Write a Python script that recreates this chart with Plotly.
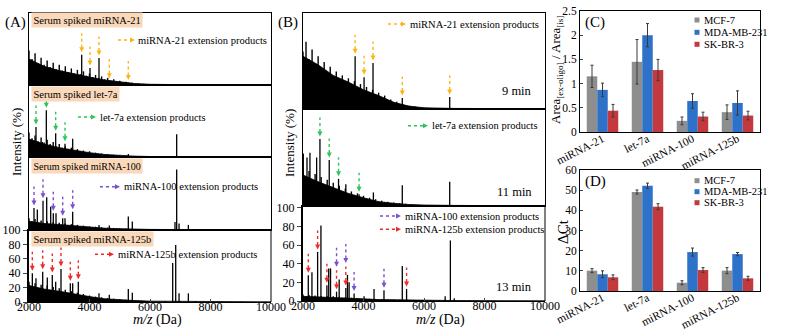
import plotly.graph_objects as go

W, H = 799, 331
SERIF = "Liberation Serif"

# ---------------- spectra data ----------------
# spiky low-mass background: spike tops sampled every 100 Da
NOISE_MZ = [2000, 2100, 2200, 2300, 2400, 2500, 2600, 2700, 2800, 2900,
            3000, 3100, 3200, 3300, 3400, 3500, 3600, 3700, 3800, 3900,
            4000, 4100, 4200, 4300, 4400, 4500, 4600, 4700, 4800, 4900,
            5000, 5100, 5200, 5300, 5400, 5500, 5600, 5700, 5800, 5900,
            6000, 6500, 7000, 7500, 8000, 9000, 10000]

NOISE_A1 = [48, 36, 44, 30, 38, 28, 34, 25, 31, 22, 28, 20, 26, 18, 23, 16, 21, 15, 19, 13,
            16, 11, 14, 10, 12, 8, 10, 6, 8, 5, 6, 3.5, 4.5, 2.5, 3, 2, 2.2, 1.5, 1.6, 1.2,
            1.0, 0.8, 0.6, 0.5, 0.4, 0.3, 0.3]
NOISE_A2 = [34, 26, 30, 22, 27, 20, 24, 18, 21, 15, 18, 13, 15, 11, 13, 9, 11, 8, 9, 6.5,
            8, 5.5, 6, 4.5, 5, 3.5, 4, 3, 3.2, 2.2, 2.5, 1.8, 2, 1.5, 1.5, 1.1, 1.2, 0.9, 1, 0.8,
            0.7, 0.6, 0.5, 0.4, 0.3, 0.3, 0.3]
NOISE_A3 = [16, 12, 15, 10, 13, 9, 12, 8.5, 11, 8, 10, 7, 9, 6.5, 8, 5.5, 7, 5, 6, 4.5,
            5, 4, 4.5, 3.2, 3.8, 2.8, 3.2, 2.4, 2.8, 2, 2.3, 1.7, 2, 1.5, 1.6, 1.2, 1.3, 1, 1.1, 0.9,
            0.9, 0.8, 1.0, 0.8, 0.5, 0.3, 0.3]
NOISE_A4 = [28, 20, 26, 19, 24, 18, 23, 16, 21, 15, 19, 13, 17, 12, 15, 10, 13, 9, 11, 7.5,
            9, 6.5, 7.5, 5.5, 6.5, 4.5, 5.5, 4, 4.5, 3.2, 3.8, 2.8, 3.2, 2.4, 2.8, 2, 2.2, 1.7, 1.8, 1.4,
            1.3, 1.1, 1.4, 1.0, 0.6, 0.4, 0.3]
NOISE_B1 = [60, 70, 52, 62, 47, 55, 42, 49, 38, 44, 34, 39, 30, 35, 27, 32, 25, 29, 22, 26,
            20, 23, 17, 20, 15, 17, 12, 14, 9, 10, 7, 7.5, 5, 5, 3.5, 3.5, 2.5, 2.5, 1.8, 1.8,
            1.4, 1.0, 0.8, 0.6, 0.5, 0.3, 0.3]
NOISE_B2 = [38, 30, 36, 27, 33, 25, 30, 22, 27, 20, 24, 17, 21, 15, 18, 13, 15, 11, 13, 9,
            10.5, 7.5, 8.5, 6, 7, 5, 5.5, 4, 4.5, 3.2, 3.5, 2.5, 2.8, 2, 2.2, 1.6, 1.7, 1.3, 1.4, 1.1,
            1.0, 0.8, 0.7, 0.5, 0.4, 0.3, 0.3]
NOISE_B3 = [7, 5, 6.5, 4.5, 6, 4.5, 5.5, 4, 5, 4, 5, 3.5, 4.5, 3.5, 4, 3, 3.5, 2.5, 3, 2.2,
            2.8, 2, 2.4, 1.8, 2.2, 1.6, 1.9, 1.4, 1.7, 1.3, 1.5, 1.1, 1.3, 1, 1.2, 0.9, 1, 0.8, 0.9, 0.8,
            0.8, 0.7, 1.2, 0.6, 0.4, 0.3, 0.3]

# solid body of the background under the spikes
BODY_MZ = [2000, 2500, 3000, 3500, 4000, 4500, 5000, 5500, 6000, 7000, 10000]
BODY_A1 = [36, 26, 20, 15, 11, 7, 4, 2, 1, 0.5, 0.2]
BODY_A2 = [25, 18, 13, 9, 6, 3.5, 2, 1.2, 0.7, 0.4, 0.2]
BODY_A3 = [12, 9, 7.5, 5.5, 4, 2.5, 1.8, 1.2, 0.8, 0.6, 0.2]
BODY_A4 = [23, 18, 15, 11, 7.5, 4.5, 3, 2, 1.2, 0.9, 0.2]
BODY_B1 = [55, 46, 35, 28, 20, 14, 7, 3, 1.3, 0.6, 0.2]
BODY_B2 = [32, 25, 19, 13, 8.5, 4.5, 2.8, 1.5, 1, 0.6, 0.2]
BODY_B3 = [5, 4.5, 4, 3.2, 2.3, 1.5, 1.2, 0.9, 0.7, 0.5, 0.2]

PEAK_MZ_A1 = [3742, 4017, 4314, 4655, 5283]
PEAK_H_A1 = [42, 23.5, 37.5, 6, 3.5]
PEAK_MZ_A2 = [2231, 2440, 2573, 2882, 3190, 3444, 5283, 6882]
PEAK_H_A2 = [41.5, 21, 65, 33, 18.5, 25.5, 4, 31.5]
PEAK_MZ_A3 = [2165, 2275, 2463, 2585, 2717, 2803, 2893, 3114, 3190, 3444, 4314, 4655,
              5283, 5415, 6826, 6882, 6960, 7268]
PEAK_H_A3 = [30, 28, 40, 45, 32, 23, 23, 16, 16, 25, 7, 6, 18.5, 11.5, 11, 83, 9, 7]
PEAK_MZ_A4 = [2110, 2231, 2453, 2605, 2770, 2882, 3058, 3366, 3444, 3630, 4314, 4655,
              5283, 5415, 6750, 6850, 6960, 7268]
PEAK_H_A4 = [40, 33, 42, 34, 37.5, 28, 46, 26, 26, 28, 12, 10, 18, 13, 54, 79, 12, 12]
PEAK_MZ_B1 = [3723, 4019, 4315, 5282, 6850]
PEAK_H_B1 = [55, 33, 48, 11.5, 12.5]
PEAK_MZ_B2 = [2010, 2132, 2230, 2451, 2560, 2867, 3175, 3416, 3854, 4327, 5282, 6850]
PEAK_H_B2 = [54, 50, 55, 50, 69, 47.5, 28, 22.5, 12, 14, 21.5, 25]
PEAK_MZ_B3 = [2175, 2296, 2483, 2593, 2790, 2850, 2910, 3109, 3196, 3416, 3470, 3524,
              3689, 4019, 4348, 4677, 5282, 5424, 6700, 6872, 7000]
PEAK_H_B3 = [27.6, 31, 52.7, 81, 17, 35, 35, 10, 23, 14, 28, 20,
             8, 5, 13, 11.5, 37.6, 13, 5, 65, 3]

# extension-product masses marked with arrows
EXT_MIR21_A = [3742, 4017, 4314, 4655, 5283]
EXT_LET7A_A = [2231, 2573, 2882, 3190]
EXT_MIR100_A = [2165, 2463, 2803, 3114, 3444]
EXT_MIR125B_A = [2110, 2453, 2770, 3058, 3366, 3630]
EXT_MIR21_B = [3723, 4019, 4315, 5282, 6850]
EXT_LET7A_B = [2560, 2867, 3175, 3854]
EXT_MIR125B_B = [2175, 2483, 2790, 3109, 3416, 5424]
EXT_MIR100_B = [3109, 3416, 3689, 4677]

MZ_TICKS = [2000, 4000, 6000, 8000, 10000]
MZ_TICKTEXT = ["2000", "4000", "6000", "8000", "10000"]
INT_TICKS = [0, 20, 40, 60, 80, 100]

# ---------------- bar chart data ----------------
MIRNAS = ["miRNA-21", "let-7a", "miRNA-100", "miRNA-125b"]
CELL_LINES = ["MCF-7", "MDA-MB-231", "SK-BR-3"]
AREA_MCF7 = [1.15, 1.45, 0.23, 0.41]
AREA_MCF7_ERR = [0.23, 0.46, 0.08, 0.15]
AREA_MDA = [0.87, 2.0, 0.64, 0.60]
AREA_MDA_ERR = [0.14, 0.24, 0.15, 0.25]
AREA_SKBR3 = [0.44, 1.28, 0.32, 0.34]
AREA_SKBR3_ERR = [0.13, 0.22, 0.09, 0.09]
DCT_MCF7 = [10.1, 49.1, 4.1, 10.1]
DCT_MCF7_ERR = [1.0, 1.0, 1.0, 1.5]
DCT_MDA = [8.3, 52.2, 19.3, 18.3]
DCT_MDA_ERR = [1.7, 1.3, 2.0, 0.8]
DCT_SKBR3 = [6.8, 41.8, 10.4, 6.3]
DCT_SKBR3_ERR = [1.2, 1.5, 1.2, 1.0]
AREA_TICKS = [0, 0.5, 1, 1.5, 2, 2.5]
AREA_TICKTEXT = ["0", "0.5", "1", "1.5", "2", "2.5"]
DCT_TICKS = [0, 10, 20, 30, 40, 50, 60]

# ---------------- styling ----------------
ORANGE = "#FDB515"
GREEN = "#2EC45A"
PURPLE = "#7A4FD0"
RED = "#F02A2A"
PEACH = "#FAD8BA"
BAR_COLORS = ["#8E8E8E", "#2D72C8", "#C4393D"]


def fx(px):
    return px / W


def fy(py):
    return 1 - py / H


fig = go.Figure()
shapes, annotations = [], []
layout = {}


def ax_names(i):
    return ("x" if i == 1 else f"x{i}", "y" if i == 1 else f"y{i}",
            "xaxis" if i == 1 else f"xaxis{i}", "yaxis" if i == 1 else f"yaxis{i}")


PANELS = [
    dict(ax=1, xs=(29, 271), ys=(13, 85), yr=[0, 100], noise=NOISE_A1, body=BODY_A1,
         pmz=PEAK_MZ_A1, ph=PEAK_H_A1, arrows=[(EXT_MIR21_A, ORANGE, False)], bottom=False),
    dict(ax=2, xs=(29, 271), ys=(85, 157), yr=[0, 100], noise=NOISE_A2, body=BODY_A2,
         pmz=PEAK_MZ_A2, ph=PEAK_H_A2, arrows=[(EXT_LET7A_A, GREEN, False)], bottom=False),
    dict(ax=3, xs=(29, 271), ys=(157, 230), yr=[0, 100], noise=NOISE_A3, body=BODY_A3,
         pmz=PEAK_MZ_A3, ph=PEAK_H_A3, arrows=[(EXT_MIR100_A, PURPLE, False)], bottom=False),
    dict(ax=4, xs=(29, 271), ys=(230, 302), yr=[0, 100], noise=NOISE_A4, body=BODY_A4,
         pmz=PEAK_MZ_A4, ph=PEAK_H_A4, arrows=[(EXT_MIR125B_A, RED, False)], bottom=True),
    dict(ax=5, xs=(303, 545), ys=(13, 109), yr=[0, 100], noise=NOISE_B1, body=BODY_B1,
         pmz=PEAK_MZ_B1, ph=PEAK_H_B1, arrows=[(EXT_MIR21_B, ORANGE, False)], bottom=False),
    dict(ax=6, xs=(303, 545), ys=(109, 206), yr=[0, 100], noise=NOISE_B2, body=BODY_B2,
         pmz=PEAK_MZ_B2, ph=PEAK_H_B2, arrows=[(EXT_LET7A_B, GREEN, False)], bottom=False),
    dict(ax=7, xs=(303, 545), ys=(206, 301), yr=[0, 102], noise=NOISE_B3, body=BODY_B3,
         pmz=PEAK_MZ_B3, ph=PEAK_H_B3,
         arrows=[(EXT_MIR125B_B, RED, False), (EXT_MIR100_B, PURPLE, True)], bottom=True),
]

ARROW_GAP, ARROW_LEN, HEAD = 2.5, 14, 5


def peak_arrow(xref, yref, mz, base, color, lift):
    g = ARROW_GAP + lift
    shapes.append(dict(type="line", xref=xref, yref=yref, ysizemode="pixel", yanchor=base,
                       x0=mz, x1=mz, y0=g + HEAD - 0.5, y1=g + HEAD + ARROW_LEN,
                       line=dict(color=color, width=1.4, dash="dot")))
    shapes.append(dict(type="path", xref=xref, yref=yref, xsizemode="pixel", ysizemode="pixel",
                       xanchor=mz, yanchor=base,
                       path=f"M -2.5 {g + HEAD} L 2.5 {g + HEAD} L 0 {g} Z",
                       fillcolor=color, line=dict(width=0)))


def sticks(mzs, hs):
    sx, sy = [], []
    for m, h in zip(mzs, hs):
        sx += [m, m, None]
        sy += [0, h, None]
    return sx, sy


for p in PANELS:
    xr, yrf, xk, yk = ax_names(p["ax"])
    # solid background body
    fig.add_trace(go.Scatter(x=BODY_MZ, y=p["body"], mode="lines", fill="tozeroy",
                             fillcolor="black", line=dict(color="black", width=0.8),
                             xaxis=xr, yaxis=yrf, hoverinfo="skip"))
    # background spikes
    nx, ny = sticks(NOISE_MZ, p["noise"])
    fig.add_trace(go.Scatter(x=nx, y=ny, mode="lines", line=dict(color="black", width=1.4),
                             xaxis=xr, yaxis=yrf, hoverinfo="skip"))
    # resolved peaks
    sx, sy = sticks(p["pmz"], p["ph"])
    fig.add_trace(go.Scatter(x=sx, y=sy, mode="lines", line=dict(color="black", width=1.3),
                             xaxis=xr, yaxis=yrf, hoverinfo="skip"))

    placed = []
    for masses, color, stack in p["arrows"]:
        for m in masses:
            j = min(range(len(p["pmz"])), key=lambda k: abs(p["pmz"][k] - m))
            base = p["ph"][j]
            lift = 0
            if stack and any(abs(m - q) < 30 for q in placed):
                lift = ARROW_GAP + HEAD + ARROW_LEN + 1
            peak_arrow(xr, yrf, m, base, color, lift)
            if not stack:
                placed.append(m)

    bottom = p["bottom"]
    layout[xk] = dict(domain=[fx(p["xs"][0]), fx(p["xs"][1])], anchor=yrf, range=[2000, 10000],
                      showline=True, mirror=True, linecolor="black", linewidth=1,
                      showgrid=False, zeroline=False, tickvals=MZ_TICKS, ticktext=MZ_TICKTEXT,
                      showticklabels=bottom, ticks="inside" if bottom else "", ticklen=3,
                      ticklabelstandoff=-6, automargin=False,
                      tickfont=dict(family=SERIF, size=12, color="black"))
    layout[yk] = dict(domain=[fy(p["ys"][1]), fy(p["ys"][0])], anchor=xr, range=p["yr"],
                      showline=True, mirror=not bottom, linecolor="black",
                      linewidth=2 if bottom else 1,
                      showgrid=False, zeroline=False, tickvals=INT_TICKS,
                      showticklabels=bottom, ticks="outside" if bottom else "", ticklen=4,
                      automargin=False,
                      tickfont=dict(family=SERIF, size=12, color="black"))
    if bottom:
        shapes.append(dict(type="line", xref=f"{xr} domain", yref=f"{yrf} domain",
                           x0=1, x1=1, y0=0, y1=1, line=dict(color="black", width=1)))

# ---------------- bar charts ----------------
BARS = [
    (8, (580, 760), (11, 132), [0, 2.5], AREA_TICKS, AREA_TICKTEXT,
     [(AREA_MCF7, AREA_MCF7_ERR), (AREA_MDA, AREA_MDA_ERR), (AREA_SKBR3, AREA_SKBR3_ERR)]),
    (9, (580, 760), (170, 291), [0, 60], DCT_TICKS, [str(v) for v in DCT_TICKS],
     [(DCT_MCF7, DCT_MCF7_ERR), (DCT_MDA, DCT_MDA_ERR), (DCT_SKBR3, DCT_SKBR3_ERR)]),
]
for i, xs, ys, yr, tv, tt, series in BARS:
    xr, yrf, xk, yk = ax_names(i)
    for k, (vals, errs) in enumerate(series):
        fig.add_trace(go.Bar(x=MIRNAS, y=vals, name=CELL_LINES[k], offsetgroup=str(k),
                             marker=dict(color=BAR_COLORS[k], line=dict(width=0)),
                             error_y=dict(type="data", array=errs, color="#3a3a3a",
                                          thickness=1, width=1.5),
                             xaxis=xr, yaxis=yrf, showlegend=False))
    layout[xk] = dict(domain=[fx(xs[0]), fx(xs[1])], anchor=yrf, type="category",
                      showline=True, mirror=True, linecolor="black", linewidth=1,
                      ticks="", tickangle=-27, showgrid=False, automargin=False,
                      ticklabelstandoff=-5,
                      tickfont=dict(family=SERIF, size=11.5, color="black"))
    layout[yk] = dict(domain=[fy(ys[1]), fy(ys[0])], anchor=xr, range=yr, tickvals=tv, ticktext=tt,
                      showline=True, mirror=True, linecolor="black", linewidth=1,
                      ticks="inside", ticklen=3, showgrid=False, zeroline=False, automargin=False,
                      tickfont=dict(family=SERIF, size=11.5, color="black"))

# manual legends for the bar charts
for rows in ([20, 32.3, 44.3], [180.7, 191.7, 202.7]):
    for k, yc in enumerate(rows):
        shapes.append(dict(type="rect", xref="paper", yref="paper",
                           x0=fx(694.5), x1=fx(699.5), y0=fy(yc + 2.5), y1=fy(yc - 2.5),
                           fillcolor=BAR_COLORS[k], line=dict(width=0)))
        annotations.append(dict(text=CELL_LINES[k], x=fx(702), y=fy(yc), xref="paper", yref="paper",
                                xanchor="left", yanchor="middle", showarrow=False,
                                font=dict(family=SERIF, size=10.5, color="black")))


# ---------------- text ----------------
def text(t, x, y, size, xanchor="left", yanchor="middle", angle=0, bg=None, pad=0):
    a = dict(text=t, x=fx(x), y=fy(y), xref="paper", yref="paper", xanchor=xanchor,
             yanchor=yanchor, showarrow=False, textangle=angle,
             font=dict(family=SERIF, size=size, color="black"))
    if bg:
        a.update(bgcolor=bg, borderpad=pad)
    annotations.append(a)


def key_arrow(x0, x1, y, color):
    shapes.append(dict(type="line", xref="paper", yref="paper", x0=fx(x0), x1=fx(x1 - 4),
                       y0=fy(y), y1=fy(y), line=dict(color=color, width=1.4, dash="dot")))
    shapes.append(dict(type="path", xref="paper", yref="paper",
                       path=f"M {fx(x1 - 5)} {fy(y - 2.5)} L {fx(x1)} {fy(y)} L {fx(x1 - 5)} {fy(y + 2.5)} Z",
                       fillcolor=color, line=dict(width=0)))


text("(A)", 15, 22, 15, xanchor="center")
text("(B)", 288, 22, 15, xanchor="center")
text("(C)", 583, 23, 15)
text("(D)", 583, 181, 15)

text("Serum spiked miRNA-21", 31, 20.5, 10.5, bg=PEACH, pad=1.5)
text("Serum spiked let-7a", 31, 93.5, 10.5, bg=PEACH, pad=1.5)
text("Serum spiked miRNA-100", 31, 166, 10, bg=PEACH, pad=1.5)
text("Serum spiked miRNA-125b", 31, 238.5, 10.5, bg=PEACH, pad=1.5)

key_arrow(118, 135, 40, ORANGE)
text("miRNA-21 extension products", 136, 40, 10.5)
key_arrow(78, 96, 117, GREEN)
text("let-7a extension products", 98, 117, 10.5)
key_arrow(100, 120, 186.7, PURPLE)
text("miRNA-100 extension products", 121.5, 186.7, 10.5)
key_arrow(95, 114, 254.3, RED)
text("miRNA-125b extension products", 115.5, 254.3, 10.5)

key_arrow(388, 406, 24, ORANGE)
text("miRNA-21 extension products", 408, 24, 10.5)
key_arrow(408, 428, 125.7, GREEN)
text("let-7a extension products", 430, 125.7, 10.5)
key_arrow(380, 401, 216, PURPLE)
text("miRNA-100 extension products", 403, 216, 10.5)
key_arrow(380, 401, 229.3, RED)
text("miRNA-125b extension products", 403, 229.3, 10.5)

text("9 min", 534, 91, 12.5, xanchor="right")
text("11 min", 534, 192.3, 12.5, xanchor="right")
text("13 min", 534, 287.3, 12.5, xanchor="right")

text("Intensity (%)", 16, 142, 13, xanchor="center", angle=-90)
text("Intensity (%)", 289, 143, 13, xanchor="center", angle=-90)
text("<i>m/z</i> (Da)", 157, 320, 14, xanchor="center")
text("<i>m/z</i> (Da)", 440, 320, 14, xanchor="center")
text("Area<sub>[ex-oligo]</sub> / Area<sub>[is]</sub>", 556, 70, 13, xanchor="center", angle=-90)
text("ΔCt", 563, 232, 15, xanchor="center", angle=-90)

fig.update_layout(
    width=W, height=H, margin=dict(l=0, r=0, t=0, b=0),
    paper_bgcolor="white", plot_bgcolor="white", showlegend=False,
    barmode="group", bargap=0.3, bargroupgap=0,
    shapes=shapes, annotations=annotations, **layout,
)

fig.write_html("out.html")
